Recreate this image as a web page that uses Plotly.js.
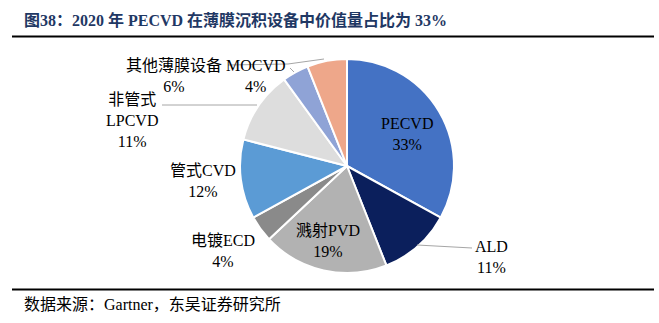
<!DOCTYPE html>
<html><head><meta charset="utf-8">
<script src="https://cdn.plot.ly/plotly-3.0.1.min.js"></script>
<style>html,body{margin:0;padding:0;background:#fff;}#chart{width:659px;height:323px;}</style>
</head><body><div id="chart"></div>
<script>
var categories = ["PECVD", "ALD", "溅射PVD", "电镀ECD", "管式CVD", "非管式LPCVD", "MOCVD", "其他薄膜设备"];
var values = [33, 11, 19, 4, 12, 11, 4, 6];
var displayNames = ["PECVD", "ALD", "溅射PVD", "电镀ECD", "管式CVD", "非管式<br>LPCVD", "MOCVD", "其他薄膜设备"];
var colors = ["#4472C4", "#0B1F5C", "#B2B2B2", "#8A8A8A", "#5B9BD5", "#DDDDDD", "#8FA3D6", "#EEA78A"];

var titleText = "图38：2020 年 PECVD 在薄膜沉积设备中价值量占比为 33%";
var sourceText = "数据来源：Gartner，东吴证券研究所";

var W = 659, H = 323;
function px(x){ return x / W; }
function py(y){ return 1 - y / H; }

var serif = "Liberation Serif, Noto Sans CJK SC, serif";

var trace = {
  type: "pie",
  labels: categories,
  values: values,
  sort: false,
  direction: "clockwise",
  rotation: 0,
  textinfo: "none",
  hoverinfo: "label+percent",
  marker: {colors: colors, line: {color: "#ffffff", width: 2}},
  domain: {x: [px(240), px(454)], y: [py(273), py(59)]},
  showlegend: false
};

var labelPos = [[407, 134], [492, 257], [328, 241], [223, 251], [203, 181], [132, 120], [256, 76], [174, 76]];
var annotations = [];
for (var i = 0; i < categories.length; i++) {
  annotations.push({
    xref: "paper", yref: "paper",
    x: px(labelPos[i][0]), y: py(labelPos[i][1]),
    xanchor: "center", yanchor: "middle",
    text: displayNames[i] + "<br>" + values[i] + "%",
    showarrow: false,
    align: "center",
    font: {family: serif, size: 16, color: "#000"}
  });
}
annotations.push({
  xref: "paper", yref: "paper", x: px(22), y: py(20), xanchor: "left", yanchor: "middle",
  text: "<b>" + titleText + "</b>", showarrow: false,
  font: {family: serif, size: 16, color: "#1F3864"}
});
annotations.push({
  xref: "paper", yref: "paper", x: px(22), y: py(304), xanchor: "left", yanchor: "middle",
  text: sourceText, showarrow: false,
  font: {family: serif, size: 16, color: "#000"}
});

var lineStyle = {color: "#A6A6A6", width: 1};
var shapes = [
  {type: "line", xref: "paper", yref: "paper", x0: px(12), x1: px(654), y0: py(36.5), y1: py(36.5), line: {color: "#000", width: 2}},
  {type: "line", xref: "paper", yref: "paper", x0: px(12), x1: px(654), y0: py(289.5), y1: py(289.5), line: {color: "#000", width: 2}},
  {type: "path", xref: "paper", yref: "paper", path: "M " + px(417) + " " + py(245) + " L " + px(472) + " " + py(248), line: lineStyle},
  {type: "line", xref: "paper", yref: "paper", x0: px(162), x1: px(257), y0: py(105), y1: py(105), line: lineStyle},
  {type: "path", xref: "paper", yref: "paper", path: "M " + px(228) + " " + py(65) + " L " + px(288) + " " + py(64) + " L " + px(324) + " " + py(59), line: lineStyle},
  {type: "line", xref: "paper", yref: "paper", x0: px(290), x1: px(294), y0: py(68), y1: py(72), line: lineStyle}
];

var layout = {
  width: W, height: H,
  margin: {l: 0, r: 0, t: 0, b: 0},
  paper_bgcolor: "#fff",
  plot_bgcolor: "#fff",
  annotations: annotations,
  shapes: shapes,
  showlegend: false
};
Plotly.newPlot("chart", [trace], layout, {displayModeBar: false, staticPlot: true});
</script></body></html>
